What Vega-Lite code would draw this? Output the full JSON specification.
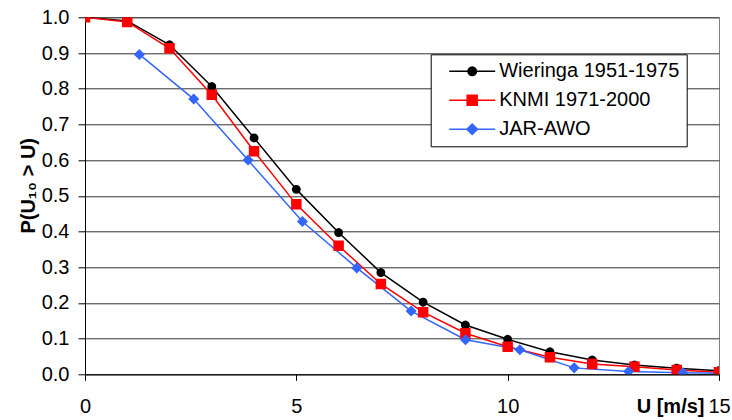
{
  "$schema": "https://vega.github.io/schema/vega-lite/v6.json",
  "autosize": "none",
  "width": 634,
  "height": 357,
  "padding": {"left": 85, "top": 17.3, "right": 13, "bottom": 45.7},
  "background": "white",
  "config": {
    "font": "Liberation Sans",
    "view": {"stroke": "#808080", "strokeWidth": 1},
    "axis": {
      "domainColor": "#000000",
      "domainWidth": 1,
      "tickColor": "#000000",
      "tickWidth": 1,
      "labelColor": "#000000",
      "labelFont": "Liberation Sans",
      "labelFontSize": 20,
      "titleFont": "Liberation Sans",
      "titleFontSize": 20,
      "titleFontWeight": "bold",
      "titleColor": "#000000",
      "gridColor": "#333333",
      "gridWidth": 1
    },
    "legend": {
      "symbolStrokeWidth": 1.5
    }
  },
  "data": {
    "values": [
      {"series": "Wieringa 1951-1975", "u": 0, "p": 1.0},
      {"series": "Wieringa 1951-1975", "u": 1, "p": 0.99},
      {"series": "Wieringa 1951-1975", "u": 2, "p": 0.923},
      {"series": "Wieringa 1951-1975", "u": 3, "p": 0.806},
      {"series": "Wieringa 1951-1975", "u": 4, "p": 0.662},
      {"series": "Wieringa 1951-1975", "u": 5, "p": 0.518},
      {"series": "Wieringa 1951-1975", "u": 6, "p": 0.397},
      {"series": "Wieringa 1951-1975", "u": 7, "p": 0.285},
      {"series": "Wieringa 1951-1975", "u": 8, "p": 0.202},
      {"series": "Wieringa 1951-1975", "u": 9, "p": 0.138},
      {"series": "Wieringa 1951-1975", "u": 10, "p": 0.098},
      {"series": "Wieringa 1951-1975", "u": 11, "p": 0.063},
      {"series": "Wieringa 1951-1975", "u": 12, "p": 0.040},
      {"series": "Wieringa 1951-1975", "u": 13, "p": 0.026},
      {"series": "Wieringa 1951-1975", "u": 14, "p": 0.017},
      {"series": "Wieringa 1951-1975", "u": 15, "p": 0.010},
      {"series": "KNMI 1971-2000", "u": 0, "p": 1.0},
      {"series": "KNMI 1971-2000", "u": 1, "p": 0.987},
      {"series": "KNMI 1971-2000", "u": 2, "p": 0.913},
      {"series": "KNMI 1971-2000", "u": 3, "p": 0.783},
      {"series": "KNMI 1971-2000", "u": 4, "p": 0.625},
      {"series": "KNMI 1971-2000", "u": 5, "p": 0.476},
      {"series": "KNMI 1971-2000", "u": 6, "p": 0.360},
      {"series": "KNMI 1971-2000", "u": 7, "p": 0.253},
      {"series": "KNMI 1971-2000", "u": 8, "p": 0.174},
      {"series": "KNMI 1971-2000", "u": 9, "p": 0.115},
      {"series": "KNMI 1971-2000", "u": 10, "p": 0.077},
      {"series": "KNMI 1971-2000", "u": 11, "p": 0.048},
      {"series": "KNMI 1971-2000", "u": 12, "p": 0.029},
      {"series": "KNMI 1971-2000", "u": 13, "p": 0.021},
      {"series": "KNMI 1971-2000", "u": 14, "p": 0.012},
      {"series": "KNMI 1971-2000", "u": 15, "p": 0.006},
      {"series": "JAR-AWO", "u": 1.286, "p": 0.896},
      {"series": "JAR-AWO", "u": 2.572, "p": 0.771},
      {"series": "JAR-AWO", "u": 3.858, "p": 0.600},
      {"series": "JAR-AWO", "u": 5.144, "p": 0.428},
      {"series": "JAR-AWO", "u": 6.430, "p": 0.298},
      {"series": "JAR-AWO", "u": 7.716, "p": 0.177},
      {"series": "JAR-AWO", "u": 9.002, "p": 0.097},
      {"series": "JAR-AWO", "u": 10.288, "p": 0.069},
      {"series": "JAR-AWO", "u": 11.574, "p": 0.018},
      {"series": "JAR-AWO", "u": 12.860, "p": 0.008},
      {"series": "JAR-AWO", "u": 14.146, "p": 0.004},
      {"series": "JAR-AWO", "u": 15.432, "p": 0.002}
    ]
  },
  "encoding": {
    "x": {
      "field": "u",
      "type": "quantitative",
      "scale": {"domain": [0, 15], "nice": false, "zero": false},
      "axis": {
        "values": [0, 5, 10, 15],
        "grid": false,
        "tickSize": 6,
        "labelPadding": 16,
        "labelFlush": false,
        "title": "U [m/s]",
        "titleX": 619,
        "titleY": 38,
        "titleAlign": "right",
        "titleAnchor": null,
        "titleBaseline": "alphabetic"
      }
    },
    "y": {
      "field": "p",
      "type": "quantitative",
      "scale": {"domain": [0, 1], "nice": false},
      "axis": {
        "values": [0, 0.1, 0.2, 0.3, 0.4, 0.5, 0.6, 0.7, 0.8, 0.9, 1.0],
        "format": ".1f",
        "grid": true,
        "tickSize": 7,
        "labelPadding": 9,
        "title": "P(U₁₀ > U)",
        "titleX": -57,
        "titleY": 168,
        "titleAngle": -90,
        "titleAlign": "center",
        "titleBaseline": "middle"
      }
    }
  },
  "layer": [
    {
      "mark": {"type": "line", "strokeWidth": 1.5, "clip": true},
      "encoding": {
        "stroke": {
          "field": "series",
          "type": "nominal",
          "scale": {
            "domain": ["Wieringa 1951-1975", "KNMI 1971-2000", "JAR-AWO"],
            "range": ["#000000", "#FF0000", "#3366FF"]
          }
        },
        "order": {"field": "u", "type": "quantitative"}
      }
    },
    {
      "mark": {"type": "point", "filled": true, "size": 110, "opacity": 1, "clip": true},
      "encoding": {
        "strokeWidth": {"value": 0},
        "color": {
          "field": "series",
          "type": "nominal",
          "scale": {
            "domain": ["Wieringa 1951-1975", "KNMI 1971-2000", "JAR-AWO"],
            "range": ["#000000", "#FF0000", "#3366FF"]
          },
          "legend": {
            "title": null,
            "orient": "none",
            "legendX": 345.7,
            "legendY": 37,
            "padding": 7,
            "strokeColor": "#000000",
            "fillColor": "#FFFFFF",
            "cornerRadius": 0,
            "labelFont": "Liberation Sans",
            "labelFontSize": 20,
            "labelColor": "#000000",
            "labelLimit": 400,
            "symbolSize": 100,
            "symbolStrokeWidth": 1.5,
            "symbolOffset": 24.5,
            "labelOffset": 17,
            "rowPadding": 9
          }
        },
        "stroke": {
          "field": "series",
          "type": "nominal",
          "legend": {"title": null, "orient": "none", "legendX": 345.7, "legendY": 37}
        },
        "shape": {
          "field": "series",
          "type": "nominal",
          "scale": {
            "domain": ["Wieringa 1951-1975", "KNMI 1971-2000", "JAR-AWO"],
            "range": [
              "M-4.6,0H4.6M0.85,0L0.785,0.325L0.601,0.601L0.325,0.785L0,0.85L-0.325,0.785L-0.601,0.601L-0.785,0.325L-0.85,0L-0.785,-0.325L-0.601,-0.601L-0.325,-0.785L0,-0.85L0.325,-0.785L0.601,-0.601L0.785,-0.325Z",
              "M-4.6,0H4.6M-1,-1H1V1H-1Z",
              "M-4.6,0H4.6M0,-1.05L1.05,0L0,1.05L-1.05,0Z"
            ]
          },
          "legend": {"title": null, "orient": "none", "legendX": 345.7, "legendY": 37}
        }
      }
    }
  ]
}
